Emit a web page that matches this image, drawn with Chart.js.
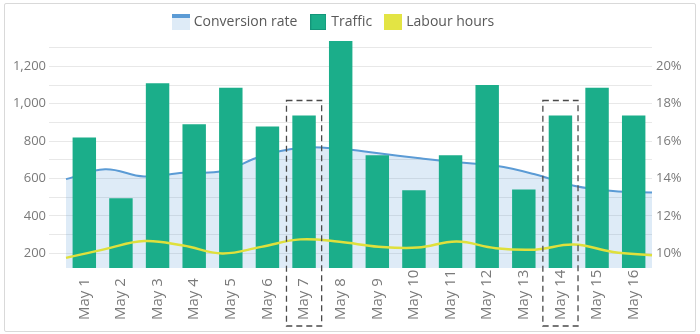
<!DOCTYPE html>
<html>
<head>
<meta charset="utf-8">
<script src="https://cdn.jsdelivr.net/npm/chart.js"></script>
<style>
  body { margin: 0; background: #fff; }
  #frame { position: absolute; left: 4px; top: 3px; width: 690px; height: 327px; border: 1px solid #d9d9d9; border-radius: 2px; }
  #wrap { position: absolute; left: 0; top: 0; width: 700px; height: 334px; }
</style>
</head>
<body>
<div id="frame"></div>
<div id="wrap"><canvas id="combo-canvas"></canvas></div>
<script>
const days = ['May 1', 'May 2', 'May 3', 'May 4', 'May 5', 'May 6', 'May 7', 'May 8',
  'May 9', 'May 10', 'May 11', 'May 12', 'May 13', 'May 14', 'May 15', 'May 16'];
const traffic = [820, 495, 1110, 890, 1085, 878, 937, 1335, 725, 537, 725, 1100, 542, 937, 1085, 937];
const conversionRate = [13.97, 14.5, 14.11, 14.31, 14.4, 15.19, 15.64, 15.59, 15.35, 15.1, 14.87, 14.68, 14.23, 13.62, 13.33, 13.26];
const labourHours = [176, 223, 266, 242, 200, 235, 275, 262, 236, 231, 263, 228, 220, 247, 208, 190];
const highlighted = ['May 7', 'May 14'];

const leftGrid = [200, 300, 400, 500, 600, 700, 800, 900, 1000, 1100, 1200, 1300];
const leftTickLabels = [200, 400, 600, 800, 1000, 1200];
const rightTickLabels = [10, 12, 14, 16, 18, 20];

const GREEN = '#1bae8a';
const BLUE = '#5b9bd5';
const YELLOW = '#dfe03c';
const FONT = '"Open Sans", sans-serif';

function makeIcon(w, h, draw) {
  const c = document.createElement('canvas');
  c.width = w; c.height = h;
  draw(c.getContext('2d'));
  return c;
}

const icons = [
  makeIcon(18, 16, g => { g.fillStyle = '#deebf7'; g.fillRect(0, 0, 18, 16); g.fillStyle = BLUE; g.fillRect(0, 0, 18, 4); }),
  makeIcon(16, 16, g => { g.fillStyle = GREEN; g.fillRect(0, 0, 16, 16); g.strokeStyle = '#14967a'; g.strokeRect(0.5, 0.5, 15, 15); }),
  makeIcon(18, 16, g => { g.fillStyle = '#e3e444'; g.fillRect(0, 0, 18, 16); })
];

// the legend in the original sits a bit left of the canvas centre
const legendShift = {
  id: 'legendShift',
  afterLayout(chart) {
    chart.legend.right -= 31;
  }
};

// rotated day labels, aligned at their start like the original
const dayLabels = {
  id: 'dayLabels',
  afterDraw(chart) {
    const { ctx, scales: { x } } = chart;
    ctx.save();
    ctx.font = '15px ' + FONT;
    ctx.fillStyle = '#7a7a7a';
    ctx.textAlign = 'left';
    ctx.textBaseline = 'middle';
    days.forEach((d, i) => {
      ctx.save();
      ctx.translate(x.getPixelForValue(i), 320);
      ctx.rotate(-Math.PI / 2);
      ctx.fillText(d, 0, 0);
      ctx.restore();
    });
    ctx.restore();
  }
};

// dashed boxes round the highlighted days
const highlightBoxes = {
  id: 'highlightBoxes',
  afterDraw(chart) {
    const { ctx, scales: { x, y } } = chart;
    const w = (x.getPixelForValue(1) - x.getPixelForValue(0)) * 0.96;
    ctx.save();
    ctx.strokeStyle = '#4a4a4a';
    ctx.lineWidth = 1.3;
    ctx.setLineDash([6, 4]);
    highlighted.forEach(d => {
      const i = days.indexOf(d);
      const cx = x.getPixelForValue(i);
      const top = y.getPixelForValue(traffic[i]) - 15;
      ctx.strokeRect(cx - w / 2, top, w, chart.height - 8 - top);
    });
    ctx.restore();
  }
};

new Chart(document.getElementById('combo-canvas'), {
  type: 'bar',
  data: {
    labels: days,
    datasets: [{
      type: 'line',
      label: 'Conversion rate',
      data: conversionRate,
      xAxisID: 'x2',
      yAxisID: 'y2',
      borderColor: BLUE,
      borderWidth: 2,
      backgroundColor: 'rgba(91, 155, 213, 0.2)',
      fill: 'start',
      tension: 0.4,
      pointRadius: 0,
      order: 3
    }, {
      type: 'bar',
      label: 'Traffic',
      data: traffic,
      xAxisID: 'x',
      yAxisID: 'y',
      backgroundColor: GREEN,
      grouped: false,
      categoryPercentage: 1,
      barPercentage: 0.64,
      order: 2
    }, {
      type: 'line',
      label: 'Labour hours',
      data: labourHours,
      xAxisID: 'x2',
      yAxisID: 'y',
      borderColor: YELLOW,
      borderWidth: 2.5,
      tension: 0.4,
      pointRadius: 0,
      fill: false,
      order: 1
    }]
  },
  options: {
    responsive: true,
    maintainAspectRatio: false,
    animation: false,
    layout: { padding: 0 },
    plugins: {
      tooltip: { enabled: false },
      legend: {
        position: 'top',
        labels: {
          usePointStyle: true,
          pointStyleWidth: 12,
          padding: 15,
          color: '#595959',
          font: { family: FONT, size: 14 },
          generateLabels(chart) {
            return chart.data.datasets.map((ds, i) => ({
              text: ds.label,
              datasetIndex: i,
              pointStyle: icons[i],
              fillStyle: 'transparent',
              strokeStyle: 'transparent',
              lineWidth: 0,
              hidden: false,
              fontColor: '#595959'
            }));
          }
        }
      }
    },
    scales: {
      x: {
        type: 'category',
        offset: true,
        grid: { display: false },
        border: { display: false },
        ticks: { display: false },
        afterFit(scale) { scale.height = 66; }
      },
      x2: {
        type: 'category',
        offset: false,
        display: false
      },
      y: {
        position: 'left',
        min: 122,
        max: 1346,
        grid: { color: '#e8e8e8', drawTicks: true, tickLength: 17 },
        border: { display: false },
        afterBuildTicks(scale) { scale.ticks = leftGrid.map(v => ({ value: v })); },
        ticks: {
          padding: 3,
          color: '#7a7a7a',
          font: { family: FONT, size: 13 },
          callback: v => leftTickLabels.includes(v) ? v.toLocaleString('en-US') : ''
        },
        afterFit(scale) { scale.width = 66; }
      },
      y2: {
        position: 'right',
        min: 9.22,
        max: 21.46,
        grid: { display: false, drawTicks: false },
        border: { display: false },
        afterBuildTicks(scale) { scale.ticks = rightTickLabels.map(v => ({ value: v })); },
        ticks: {
          padding: 4,
          color: '#7a7a7a',
          font: { family: FONT, size: 13 },
          callback: v => v + '%'
        },
        afterFit(scale) { scale.width = 48; }
      }
    }
  },
  plugins: [legendShift, dayLabels, highlightBoxes]
});
</script>
</body>
</html>
